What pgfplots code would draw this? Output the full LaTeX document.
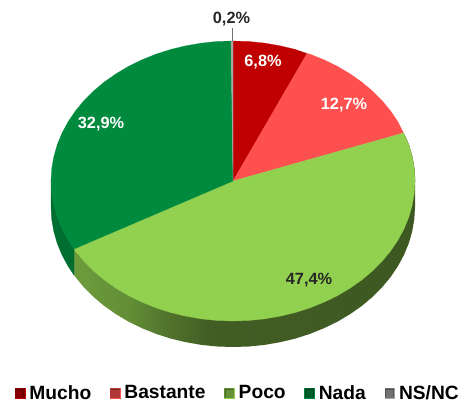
\documentclass[border=0pt]{standalone}
\usepackage{fontspec}
\setmainfont{Liberation Sans}
\usepackage{pgfplots}
\pgfplotsset{compat=1.18}
\definecolor{mucho}{HTML}{C00000}
\definecolor{bastante}{HTML}{FF5050}
\definecolor{poco}{HTML}{92D050}
\definecolor{nada}{HTML}{008A3E}
\definecolor{nsnc}{HTML}{A6A6A6}
\definecolor{nadaside}{HTML}{006E31}
\pgfdeclarehorizontalshading{pocoside}{100bp}{
  color(0bp)=(poco!75!black);
  color(25bp)=(poco!75!black);
  color(33bp)=(poco!68!black);
  color(39bp)=(poco!55!black);
  color(45bp)=(poco!45!black);
  color(75bp)=(poco!42!black);
  color(100bp)=(poco!42!black)}
\newcommand{\lab}[3]{\node[font=\bfseries\fontsize{16.3bp}{18bp}\selectfont,text=#3,inner sep=0pt] at (axis cs:#1) {#2};}
\begin{document}
\begin{tikzpicture}
\path[use as bounding box] (0,0) rectangle (461bp,403bp);
\begin{axis}[
  at={(0,0)}, anchor=south west,
  scale only axis, width=461bp, height=403bp,
  xmin=0, xmax=461, ymin=0, ymax=403, y dir=reverse,
  hide axis, clip=false,
  legend columns=-1,
  legend cell align=left,
  legend image code/.code={\path[#1] (0bp,-4.7bp) rectangle (9.6bp,4.7bp);
    \draw[black,opacity=0.3,line width=1.2bp] (0.6bp,-4.1bp) rectangle (9bp,4.1bp);},
  legend style={
    at={(0.0325,0.0248)}, anchor=west, draw=none, fill=none,
    inner sep=0pt, outer sep=0pt,
    font=\bfseries\fontsize{19.2bp}{21bp}\selectfont,
    nodes={inner sep=0pt},
    /tikz/every odd column/.append style={column sep=4.6bp},
    /tikz/every even column/.append style={column sep=18.8bp},
  },
]
% side of the disc
\addplot[forget plot, shading=pocoside, draw=none] coordinates {
 (415,181)(415,207)(414.3,219.2)(412.2,231.3)(408.8,243.2)(404,254.9)(397.9,266.2)(390.6,277)
 (382.1,287.3)(372.4,297)(361.7,306)(350,314.2)(337.4,321.7)(324,328.2)(309.9,333.9)(295.2,338.6)
 (280.1,342.2)(264.6,344.9)(248.9,346.5)(233,347)(217.1,346.5)(201.4,344.9)(185.9,342.2)(170.8,338.6)
 (156.1,333.9)(142,328.2)(128.6,321.7)(116,314.2)(104.3,306)(93.6,297)(83.9,287.3)(75.4,277)(74,275)(74,249)
} --cycle;
\addplot[forget plot, fill=nadaside, draw=nadaside, line width=0.3pt] coordinates {
 (74,249)(74,275)(68.1,266.2)(62,254.9)(57.2,243.2)(53.8,231.3)(51.7,219.2)(51,207)(51,181)
} --cycle;
\addplot[forget plot, draw=poco!42!black, line width=0.6pt] coordinates {
 (403.5,133)(408.8,144.8)(412.2,156.7)(414.3,168.8)(415,181)
};
% top of the disc
\addplot[fill=mucho, draw=mucho, line width=0.2pt] coordinates {
 (233,181)(233,41)(248.9,41.5)(264.6,43.1)(280.1,45.8)(295.2,49.4)(307,53.5)
} --cycle;
\addlegendentry{Mucho}
\addplot[fill=bastante, draw=bastante, line width=0.2pt] coordinates {
 (233,181)(307,53.5)(309.9,54.1)(324,59.8)(337.4,66.3)(350,73.8)(361.7,82)(372.4,91)(382.1,100.7)
 (390.6,111)(397.9,121.8)(403.5,133)
} --cycle;
\addlegendentry{Bastante}
\addplot[fill=poco, draw=poco, line width=0.2pt] coordinates {
 (233,181)(403.5,133)(408.8,144.8)(412.2,156.7)(414.3,168.8)(415,181)(414.3,193.2)(412.2,205.3)
 (408.8,217.2)(404,228.9)(397.9,240.2)(390.6,251)(382.1,261.3)(372.4,271)(361.7,280)(350,288.2)
 (337.4,295.7)(324,302.2)(309.9,307.9)(295.2,312.6)(280.1,316.2)(264.6,318.9)(248.9,320.5)(233,321)
 (217.1,320.5)(201.4,318.9)(185.9,316.2)(170.8,312.6)(156.1,307.9)(142,302.2)(128.6,295.7)(116,288.2)
 (104.3,280)(93.6,271)(83.9,261.3)(75.4,251)(74,249)
} --cycle;
\addlegendentry{Poco}
\addplot[fill=nada, draw=nada, line width=0.2pt] coordinates {
 (233,181)(74,249)(68.1,240.2)(62,228.9)(57.2,217.2)(53.8,205.3)(51.7,193.2)(51,181)(51.7,168.8)
 (53.8,156.7)(57.2,144.8)(62,133.1)(68.1,121.8)(75.4,111)(83.9,100.7)(93.6,91)(104.3,82)(116,73.8)
 (128.6,66.3)(142,59.8)(156.1,54.1)(170.8,49.4)(185.9,45.8)(201.4,43.1)(217.1,41.5)(231,41)
} --cycle;
\addlegendentry{Nada}
\addplot[fill=nsnc, draw=nsnc, line width=0.2pt] coordinates {
 (233,181)(231,41)(233,41)
} --cycle;
\addlegendentry{NS/NC}
% leader line
\addplot[forget plot, draw=black!55, line width=0.6pt] coordinates {(232,28)(232,41)};
\lab{231.5,19}{0,2\%}{black!85}
\lab{263,62}{6,8\%}{white}
\lab{344,105}{12,7\%}{white}
\lab{309,280}{47,4\%}{black!85}
\lab{101,124}{32,9\%}{white}
\end{axis}
\end{tikzpicture}
\end{document}
